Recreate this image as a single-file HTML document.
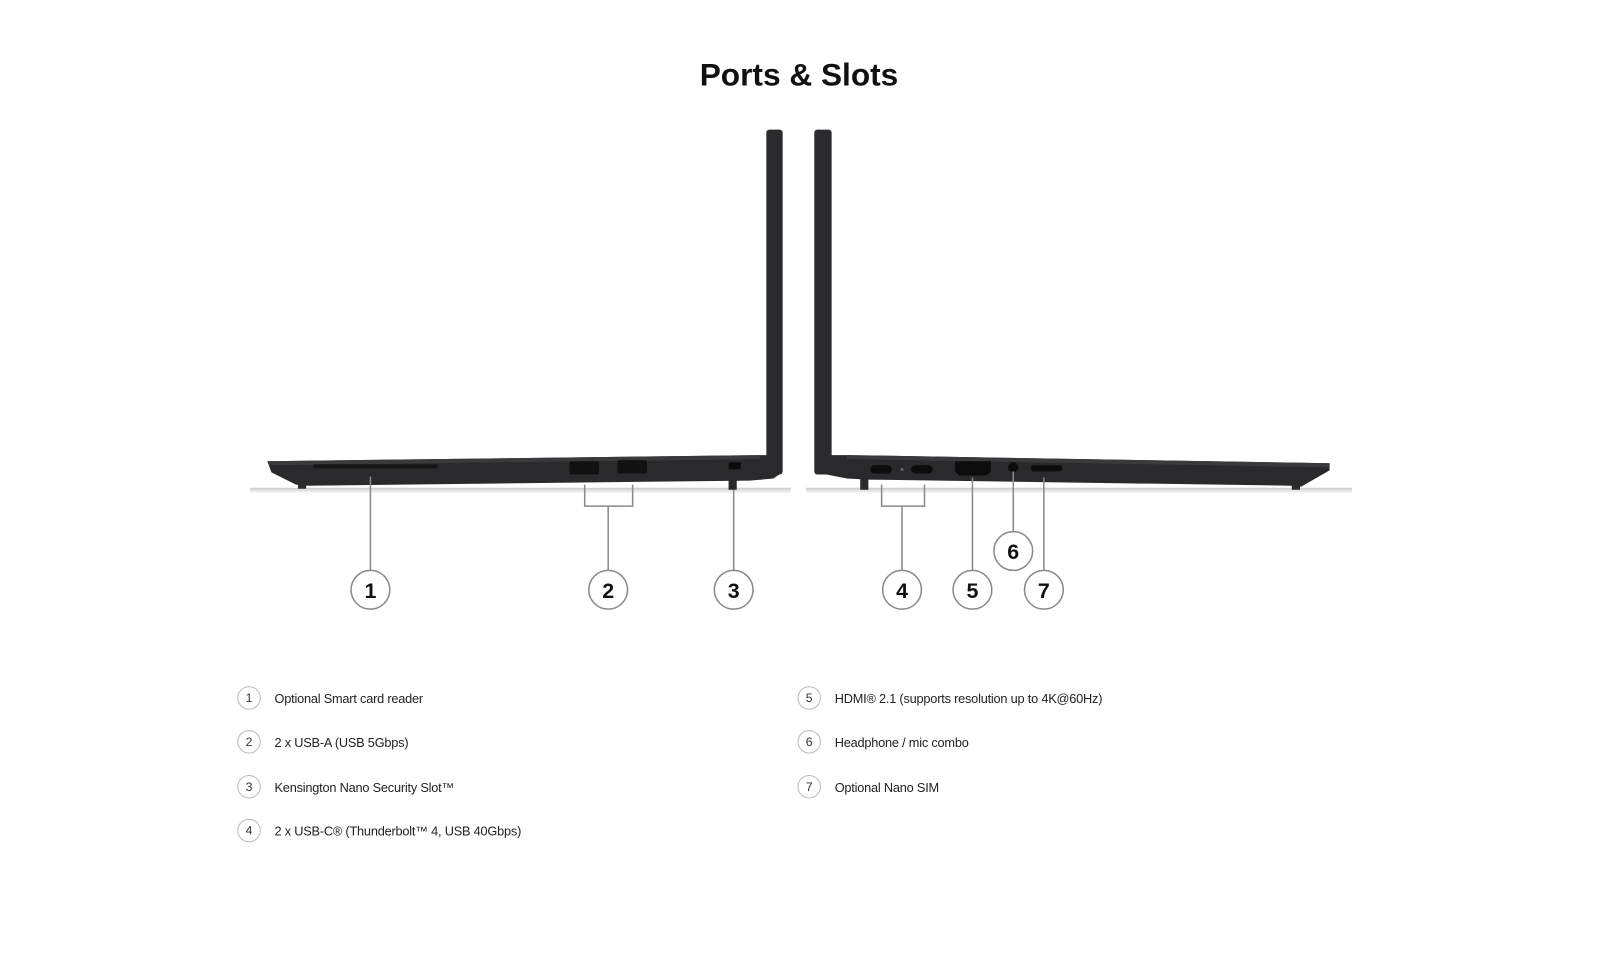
<!DOCTYPE html>
<html><head><meta charset="utf-8"><style>
body{margin:0;background:#fff;width:1600px;height:952px;overflow:hidden;font-family:"Liberation Sans",sans-serif}
</style></head><body>
<svg width="1600" height="952" viewBox="0 0 1568 933" xmlns="http://www.w3.org/2000/svg">
<defs>
<linearGradient id="sh" x1="0" x2="0" y1="0" y2="1"><stop offset="0" stop-color="#ccc"/><stop offset="1" stop-color="#fff"/></linearGradient>
</defs>
<text x="783" y="84" text-anchor="middle" font-family="Liberation Sans,sans-serif" font-weight="bold" font-size="31" fill="#111">Ports &amp; Slots</text>
<rect x="245" y="478" width="530" height="6" fill="url(#sh)"/>
<rect x="790" y="478" width="535" height="6" fill="url(#sh)"/>
<rect x="751" y="127" width="16" height="338" rx="3" fill="#2b2b2d"/>
<path d="M262,452 L745,446 L758,446 L765,452 L765,464 L758,469 L735,471 L300,476 L290,475 L266,463 Z" fill="#2a2a2c"/>
<path d="M262,452 L745,446 L745,450 L264,456 Z" fill="#3a3a3c"/>
<rect x="292" y="474" width="8" height="5" fill="#2a2a2c"/>
<rect x="714" y="468" width="8" height="12" fill="#2a2a2c"/>
<rect x="307" y="455" width="122" height="4" rx="2" fill="#151515"/>
<rect x="558" y="452" width="29" height="13" rx="2" fill="#111"/>
<rect x="605" y="451" width="29" height="13" rx="2" fill="#111"/>
<rect x="714" y="453" width="12" height="7" rx="1" fill="#0c0c0c"/>
<rect x="798" y="127" width="17" height="338" rx="3" fill="#2b2b2d"/>
<path d="M803,452 L810,446 L830,446 L1303,454 L1303,461 L1275,477 L1265,476 L850,470 L830,469 L805,464 Z" fill="#2a2a2c"/>
<path d="M830,446 L1303,454 L1303,458 L830,450 Z" fill="#3a3a3c"/>
<rect x="843" y="468" width="8" height="12" fill="#2a2a2c"/>
<rect x="1266" y="475" width="8" height="5" fill="#2a2a2c"/>
<rect x="853" y="456" width="21" height="8" rx="4" fill="#0c0c0c"/>
<rect x="893" y="456" width="21" height="8" rx="4" fill="#0c0c0c"/>
<circle cx="884" cy="460" r="1.5" fill="#666"/>
<path d="M936,452 L971,452 L971,462 L967,466 L940,466 L936,462 Z" fill="#0c0c0c"/>
<circle cx="993" cy="458" r="5" fill="#0c0c0c"/>
<rect x="1010" y="456" width="31" height="6" rx="3" fill="#0c0c0c"/>
<g stroke="#8a8a8a" stroke-width="1.5" fill="none">
<path d="M363,467 V559"/>
<path d="M573,475 V496 H620 V475 M596,496 V559"/>
<path d="M719,480 V559"/>
<path d="M864,475 V496 H906 V475 M884,496 V559"/>
<path d="M953,468 V559"/>
<path d="M993,462 V521"/>
<path d="M1023,468 V559"/>
</g>
<g stroke="#8a8a8a" stroke-width="1.5" fill="#fff">
<circle cx="363" cy="578" r="19"/><circle cx="596" cy="578" r="19"/><circle cx="719" cy="578" r="19"/>
<circle cx="884" cy="578" r="19"/><circle cx="953" cy="578" r="19"/><circle cx="993" cy="540" r="19"/><circle cx="1023" cy="578" r="19"/>
</g>
<g font-family="Liberation Sans,sans-serif" font-weight="bold" font-size="21" fill="#111" text-anchor="middle">
<text x="363" y="586">1</text><text x="596" y="586">2</text><text x="719" y="586">3</text>
<text x="884" y="586">4</text><text x="953" y="586">5</text><text x="993" y="548">6</text><text x="1023" y="586">7</text>
</g>
<g stroke="#bbb" stroke-width="1" fill="#fff">
<circle cx="244" cy="684" r="11"/><circle cx="244" cy="727" r="11"/><circle cx="244" cy="771" r="11"/><circle cx="244" cy="814" r="11"/>
<circle cx="793" cy="684" r="11"/><circle cx="793" cy="727" r="11"/><circle cx="793" cy="771" r="11"/>
</g>
<g font-family="Liberation Sans,sans-serif" font-size="12" fill="#333" text-anchor="middle">
<text x="244" y="688">1</text><text x="244" y="731">2</text><text x="244" y="775">3</text><text x="244" y="818">4</text>
<text x="793" y="688">5</text><text x="793" y="731">6</text><text x="793" y="775">7</text>
</g>
<g font-family="Liberation Sans,sans-serif" font-size="12.5" fill="#222" letter-spacing="-0.2">
<text x="269" y="689">Optional Smart card reader</text>
<text x="269" y="732">2 x USB-A (USB 5Gbps)</text>
<text x="269" y="776">Kensington Nano Security Slot™</text>
<text x="269" y="819">2 x USB-C® (Thunderbolt™ 4, USB 40Gbps)</text>
<text x="818" y="689">HDMI® 2.1 (supports resolution up to 4K@60Hz)</text>
<text x="818" y="732">Headphone / mic combo</text>
<text x="818" y="776">Optional Nano SIM</text>
</g>
</svg>
</body></html>
